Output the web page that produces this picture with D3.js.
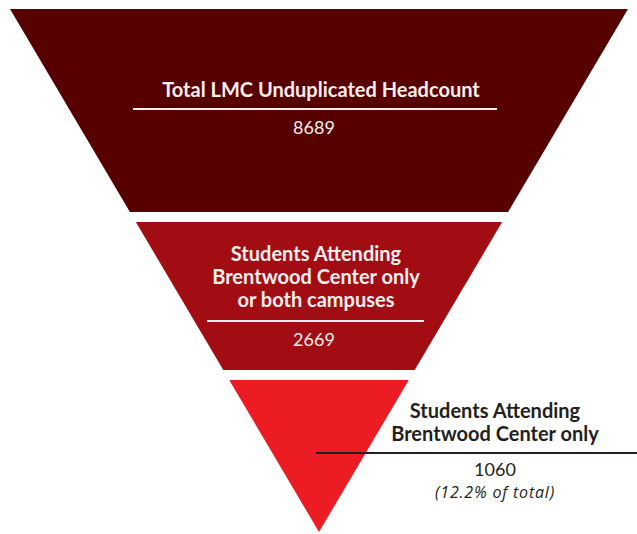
<!DOCTYPE html>
<html>
<head>
<meta charset="utf-8">
<script src="https://cdn.jsdelivr.net/npm/d3@7"></script>
<style>
  body { margin: 0; background: #fff; }
  svg text { font-family: Lato, "Open Sans", sans-serif; }
</style>
</head>
<body>
<script>
// funnel data
var stages = ["total", "brentwoodOrBoth", "brentwoodOnly"];
var labels = [
    ["Total LMC Unduplicated Headcount"],
    ["Students Attending", "Brentwood Center only", "or both campuses"],
    ["Students Attending", "Brentwood Center only"]
];
var counts = [8689, 2669, 1060];
var notes = ["", "", "(12.2% of total)"];
var colors = ["#570000", "#a10d13", "#ec1c24"];

var svgWidth = 637;
var svgHeight = 534;

var svg = d3.select("body")
    .append("svg")
    .attr("width", svgWidth)
    .attr("height", svgHeight);

// the funnel is one big cone, cut into bands
var coneTop = 9, apex = 532, cx = 319;
var edges = [9, 212, 222, 370, 380, 532]; // band top/bottom pairs

var widthScale = d3.scaleLinear()
    .domain([coneTop, apex])
    .range([618, 0]);

var data = stages.map(function(s, i) {
    return {
        id: s,
        lines: labels[i],
        count: counts[i],
        note: notes[i],
        color: colors[i],
        y0: edges[i * 2],
        y1: edges[i * 2 + 1]
    };
});

svg.selectAll("path.band")
    .data(data)
    .enter()
    .append("path")
    .attr("class", "band")
    .attr("fill", d => d.color)
    .attr("d", function(d) {
        var w0 = widthScale(d.y0) / 2, w1 = widthScale(d.y1) / 2;
        return d3.line()([
            [cx - w0, d.y0], [cx + w0, d.y0],
            [cx + w1, d.y1], [cx - w1, d.y1]
        ]) + "Z";
    });

var lineH = 23;
var titleSize = 20;
var numSize = 18;
var light = "#f7eeee";
var dark = "#231f20";

// band 1
var b1 = data[0];
svg.append("text")
    .attr("x", cx + 2).attr("y", 97)
    .attr("text-anchor", "middle")
    .attr("fill", light)
    .style("font-weight", "bold")
    .style("font-size", titleSize + "px")
    .text(b1.lines[0]);
svg.append("line")
    .attr("x1", 133).attr("x2", 497)
    .attr("y1", 109).attr("y2", 109)
    .attr("stroke", light).attr("stroke-width", 2);
svg.append("text")
    .attr("x", cx - 5).attr("y", 134)
    .attr("text-anchor", "middle")
    .attr("fill", light)
    .style("font-size", numSize + "px")
    .text(d3.format("d")(b1.count));

// band 2
var b2 = data[1];
svg.append("g").selectAll("text")
    .data(b2.lines)
    .enter()
    .append("text")
    .attr("x", cx - 3)
    .attr("y", (d, i) => 261 + i * lineH)
    .attr("text-anchor", "middle")
    .attr("fill", light)
    .style("font-weight", "bold")
    .style("font-size", titleSize + "px")
    .text(d => d);
svg.append("line")
    .attr("x1", 207).attr("x2", 424)
    .attr("y1", 321).attr("y2", 321)
    .attr("stroke", light).attr("stroke-width", 2);
svg.append("text")
    .attr("x", cx - 5).attr("y", 346)
    .attr("text-anchor", "middle")
    .attr("fill", light)
    .style("font-size", numSize + "px")
    .text(d3.format("d")(b2.count));

// band 3 - label sits to the right
var b3 = data[2];
var lx = 495;
svg.append("g").selectAll("text")
    .data(b3.lines)
    .enter()
    .append("text")
    .attr("x", lx)
    .attr("y", (d, i) => 418 + i * lineH)
    .attr("text-anchor", "middle")
    .attr("fill", dark)
    .style("font-weight", "bold")
    .style("font-size", titleSize + "px")
    .text(d => d);
svg.append("line")
    .attr("x1", cx - 3).attr("x2", svgWidth)
    .attr("y1", 453).attr("y2", 453)
    .attr("stroke", dark).attr("stroke-width", 2);
svg.append("text")
    .attr("x", lx).attr("y", 476)
    .attr("text-anchor", "middle")
    .attr("fill", dark)
    .style("font-size", numSize + "px")
    .text(d3.format("d")(b3.count));
svg.append("text")
    .attr("x", lx).attr("y", 498)
    .attr("text-anchor", "middle")
    .attr("fill", dark)
    .style("font-family", "'Open Sans', sans-serif")
    .style("font-style", "italic")
    .style("font-size", "16px")
    .style("letter-spacing", "0.8px")
    .text(b3.note);
</script>
</body>
</html>
